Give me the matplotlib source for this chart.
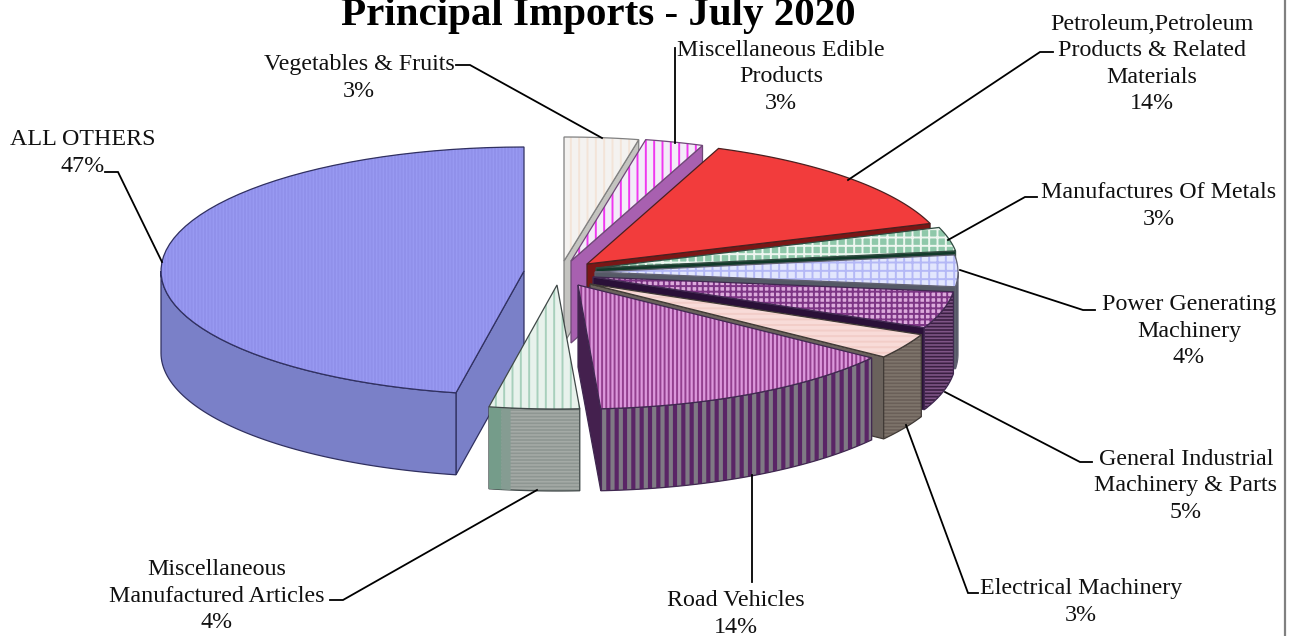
import numpy as np
import matplotlib
matplotlib.use("Agg")
import matplotlib.pyplot as plt
from matplotlib.patches import Polygon

plt.rcParams["font.family"] = ["Liberation Serif", "DejaVu Serif"]
plt.rcParams["hatch.linewidth"] = 1.4

# slices, clockwise from 12 o'clock
names = ["Vegetables & Fruits", "Miscellaneous Edible\nProducts",
         "Petroleum,Petroleum\nProducts & Related\nMaterials", "Manufactures Of Metals",
         "Power Generating\nMachinery", "General Industrial\nMachinery & Parts",
         "Electrical Machinery", "Road Vehicles",
         "Miscellaneous\nManufactured Articles", "ALL OTHERS"]
values = [3.3, 2.6, 13.8, 3.1, 4.1, 4.8, 3.3, 14.0, 4.0, 47.0]

# where each slice ended up after the explode
apex_x = [564, 571, 587, 596, 595, 593, 590, 578, 557, 524]
apex_y = [261, 261, 264, 268, 272, 277, 284, 285, 285, 271]

rx, ry, depth = 363, 124, 82

top_col = ["#f4f2f0", "#f3ecf8", "#f23c3c", "#8fc8aa", "#e2e6fd", "#dcaadc", "#f8dbd8", "#dc98dc", "#e8f2ec", "#9899f2"]
top_hatch = ["||", "||", None, "++", "++", "+++", "---", "||||", "||", "|||||"]
top_hcol = ["#f3e4d8", "#f038f0", None, "#eef6f0", "#b4b8f6", "#7d3585", "#f2cdc8", "#93408f", "#a8d0bc", "#9090ea"]
rim_col = ["#c4c4c0", "#c4c4c0", "#7a1616", "#123a2a", "#555a66", "#3a1f42", "#6a5f58", "#5a2566", "#8e9692", "#7a80c8"]
rim_hatch = [None, None, None, None, None, "-----", "-----", "||", "-----", None]
rim_hcol = [None, None, None, None, None, "#7e5486", "#7f756c", "#7f7a84", "#a4aaa6", None]
rim_hlw = [1.4, 1.4, 1.4, 1.4, 1.4, 1.2, 1.2, 3.0, 1.2, 1.4]
face_col = ["#c4c4c0", "#a860b0", "#7a1616", "#123a2a", "#555a66", "#2a1038", "#6a625c", "#44204e", "#8e9692", "#7a80c8"]
edge_col = ["#808080", "#704878", "#4a2020", "#304a40", "#606070", "#402850", "#403a36", "#402850", "#404848", "#303060"]

label_x = [359, 781, 1152, 1159, 1189, 1186, 1081, 736, 217, 83]
label_y = [78, 77, 64, 206, 331, 486, 602, 614, 596, 153]

leader_x = [[456, 470, 602], [675, 675], [848, 1040, 1053], [948, 1025, 1037], [960, 1083, 1095],
            [945, 1080, 1092], [906, 968, 978], [752, 752], [537, 343, 330], [162, 118, 105]]
leader_y = [[65, 65, 138], [143, 48], [180, 52, 52], [240, 197, 197], [270, 310, 310],
            [392, 462, 462], [425, 593, 593], [475, 582], [490, 600, 600], [262, 172, 172]]


def rim_point(i, deg):
    t = np.radians(deg)
    return apex_x[i] + rx * np.sin(t), apex_y[i] - ry * np.cos(t)


def arc(i, a0, a1):
    ts = np.linspace(a0, a1, 60)
    return np.array([rim_point(i, t) for t in ts])


def fill(ax, pts, col, hatch, hcol, edge, z, hlw=1.4):
    if hatch:
        p = Polygon(pts, closed=True, facecolor=col, edgecolor=hcol, hatch=hatch, lw=0, zorder=z)
        p.set_hatch_linewidth(hlw)
        ax.add_patch(p)
    else:
        ax.add_patch(Polygon(pts, closed=True, facecolor=col, edgecolor="none", lw=0, zorder=z))
    ax.add_patch(Polygon(pts, closed=True, fill=False, edgecolor=edge, lw=0.9, zorder=z + 0.01))


fig = plt.figure(figsize=(12.92, 6.36), dpi=100)
ax = fig.add_axes([0, 0, 1, 1])
ax.set_xlim(0, 1292)
ax.set_ylim(636, 0)
ax.axis("off")

ends = np.cumsum(values) / np.sum(values) * 360
starts = np.concatenate([[0], ends[:-1]])

# others first, the rest clockwise, misc articles last so it sits in front
order = [9, 0, 1, 2, 3, 4, 5, 6, 7, 8]
for n, i in enumerate(order):
    z = 2 + n
    a0, a1 = starts[i], ends[i]
    apex = np.array([apex_x[i], apex_y[i]])
    down = np.array([0, depth])

    if a0 > 180:
        p = np.array(rim_point(i, a0))
        fill(ax, [apex, p, p + down, apex + down], face_col[i], None, None, edge_col[i], z)
    if a1 < 180:
        p = np.array(rim_point(i, a1))
        fill(ax, [apex, p, p + down, apex + down], face_col[i], None, None, edge_col[i], z)

    lo, hi = max(a0, 90), min(a1, 270)
    if lo < hi:
        r = arc(i, lo, hi)
        pts = np.vstack([r, (r + down)[::-1]])
        fill(ax, pts, rim_col[i], rim_hatch[i], rim_hcol[i], edge_col[i], z + 0.2, rim_hlw[i])

    pts = np.vstack([apex, arc(i, a0, a1)])
    fill(ax, pts, top_col[i], top_hatch[i], top_hcol[i], edge_col[i], z + 0.4)

# greenish shine on the left of the misc articles rim
span = ends[8] - starts[8]
for f0, f1, c in [(0.86, 1.0, "#759c8a"), (0.76, 0.86, "#859c92")]:
    r = arc(8, starts[8] + f0 * span, starts[8] + f1 * span)
    ax.add_patch(Polygon(np.vstack([r, (r + [0, depth])[::-1]]), closed=True, facecolor=c,
                         edgecolor="none", lw=0, zorder=11.3))

for lx, ly in zip(leader_x, leader_y):
    ax.plot(lx, ly, color="black", lw=1.3, zorder=20, solid_joinstyle="miter")

for i, name in enumerate(names):
    ax.text(label_x[i], label_y[i], f"{name}\n{round(values[i])}%", ha="center", va="center",
            fontsize=17.3, linespacing=1.34, color="#111111", zorder=21)

ax.text(598, 25, "Principal Imports - July 2020", ha="center", va="baseline",
        fontsize=29.5, fontweight="bold", color="black", zorder=21)

# chart frame, only the right side is inside the crop
ax.plot([1285, 1285], [0, 636], color="#808080", lw=1.6, zorder=1)

fig.savefig("out.png", dpi=100)
